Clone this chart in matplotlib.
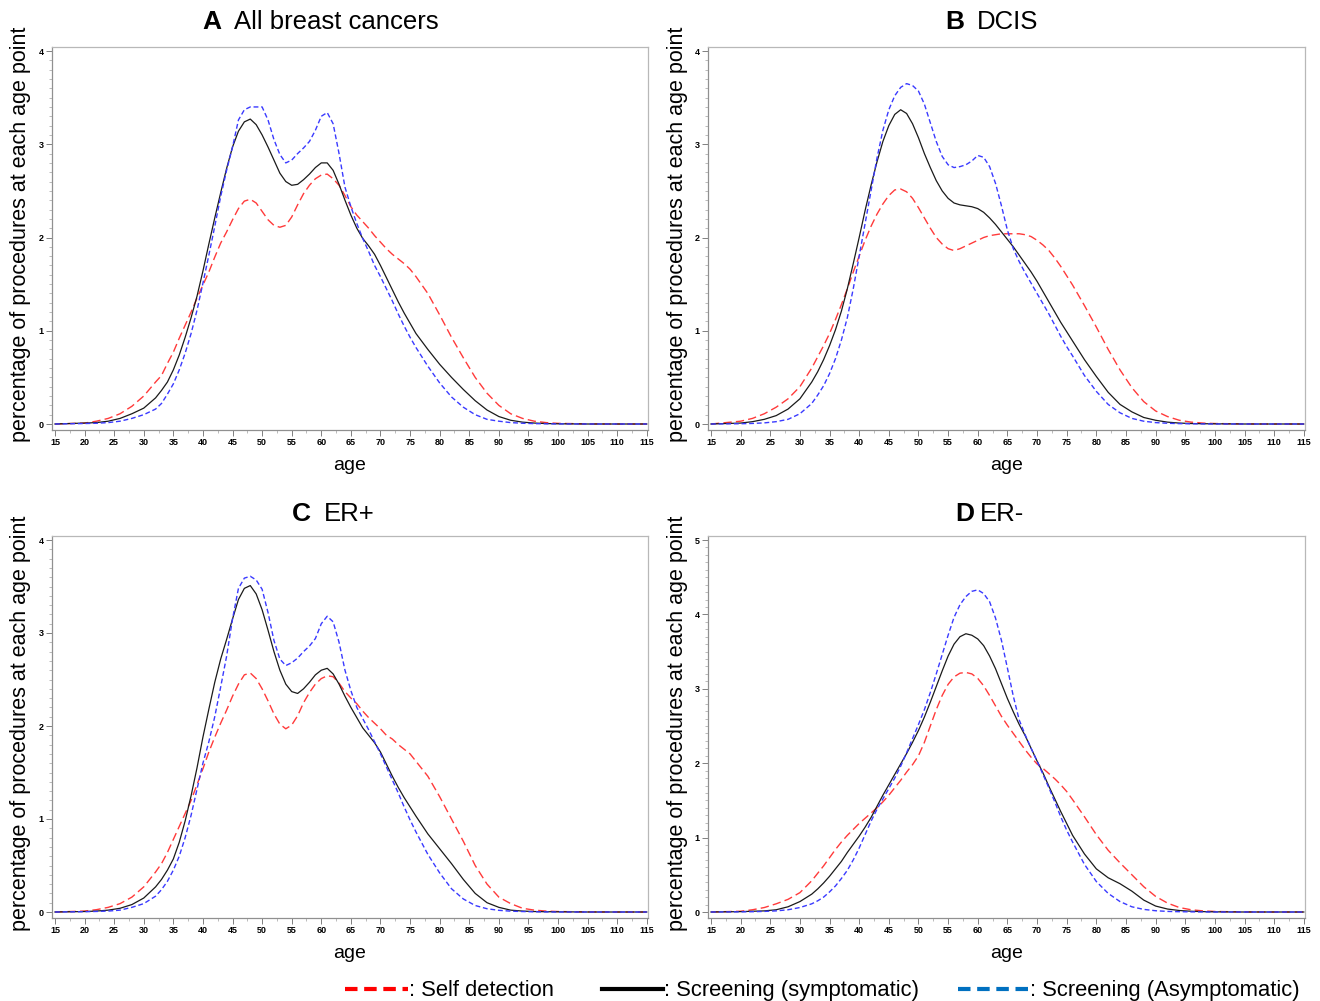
import matplotlib
matplotlib.use("Agg")
import matplotlib.pyplot as plt
from matplotlib.lines import Line2D
from matplotlib.ticker import MultipleLocator
from matplotlib import font_manager

# ages (x) shared by all curves
ages = [15, 20, 22, 24, 26, 28, 30, 32,
        33, 34, 35, 36, 37, 38, 39, 40, 41, 42, 43, 44, 45, 46, 47, 48, 49, 50,
        51, 52, 53, 54, 55, 56, 57, 58, 59, 60, 61, 62, 63, 64, 65, 66, 67, 68,
        69, 70, 71, 72, 73, 74, 75, 76,
        78, 80, 82, 84, 86, 88, 90, 92, 94, 96, 98, 100, 105, 110, 115]

# A  All breast cancers
a_self = [0, 0.01, 0.03, 0.06, 0.11, 0.19, 0.30, 0.45,
          0.52, 0.65, 0.77, 0.92, 1.06, 1.20, 1.35, 1.49, 1.63, 1.79, 1.94, 2.06, 2.19, 2.31, 2.39, 2.41, 2.37, 2.28,
          2.19, 2.13, 2.11, 2.13, 2.22, 2.35, 2.47, 2.56, 2.63, 2.67, 2.68, 2.63, 2.56, 2.45, 2.33, 2.24, 2.17, 2.10,
          2.02, 1.95, 1.88, 1.82, 1.77, 1.72, 1.66, 1.58,
          1.40, 1.17, 0.93, 0.71, 0.50, 0.33, 0.20, 0.11, 0.06, 0.03, 0.015, 0.007, 0.001, 0, 0]
a_sympt = [0, 0.01, 0.015, 0.03, 0.06, 0.11, 0.17, 0.28,
           0.36, 0.45, 0.58, 0.74, 0.93, 1.14, 1.37, 1.64, 1.93, 2.21, 2.48, 2.74, 2.97, 3.14, 3.24, 3.27, 3.21, 3.10,
           2.97, 2.83, 2.69, 2.60, 2.56, 2.57, 2.62, 2.68, 2.75, 2.80, 2.80, 2.72, 2.57, 2.40, 2.24, 2.10, 1.99, 1.91,
           1.82, 1.70, 1.57, 1.44, 1.31, 1.19, 1.08, 0.97,
           0.80, 0.64, 0.50, 0.37, 0.25, 0.15, 0.08, 0.04, 0.02, 0.01, 0.005, 0.002, 0, 0, 0]
a_asympt = [0, 0.005, 0.008, 0.015, 0.03, 0.06, 0.10, 0.16,
            0.22, 0.32, 0.43, 0.58, 0.76, 0.97, 1.22, 1.51, 1.81, 2.12, 2.44, 2.72, 2.97, 3.26, 3.37, 3.40, 3.40, 3.40,
            3.26, 3.05, 2.89, 2.80, 2.83, 2.90, 2.96, 3.03, 3.15, 3.30, 3.34, 3.22, 2.90, 2.54, 2.33, 2.15, 1.99, 1.85,
            1.70, 1.58, 1.45, 1.32, 1.18, 1.05, 0.93, 0.82,
            0.62, 0.44, 0.29, 0.18, 0.10, 0.05, 0.03, 0.015, 0.008, 0.004, 0.002, 0.001, 0, 0, 0]

# B  DCIS
b_self = [0, 0.03, 0.06, 0.11, 0.18, 0.27, 0.40, 0.60,
          0.72, 0.84, 0.97, 1.12, 1.28, 1.45, 1.63, 1.80, 1.97, 2.12, 2.25, 2.36, 2.45, 2.51, 2.52, 2.49, 2.42, 2.32,
          2.21, 2.10, 2.00, 1.93, 1.88, 1.86, 1.88, 1.91, 1.94, 1.97, 2.00, 2.02, 2.03, 2.04, 2.04, 2.04, 2.04, 2.03,
          2.01, 1.97, 1.92, 1.86, 1.78, 1.69, 1.59, 1.49,
          1.27, 1.04, 0.80, 0.58, 0.39, 0.24, 0.14, 0.08, 0.04, 0.02, 0.01, 0.005, 0.001, 0, 0]
b_sympt = [0, 0.01, 0.025, 0.05, 0.09, 0.16, 0.27, 0.45,
           0.56, 0.69, 0.84, 1.01, 1.21, 1.45, 1.72, 2.00, 2.29, 2.56, 2.81, 3.03, 3.20, 3.32, 3.37, 3.33, 3.22, 3.07,
           2.90, 2.75, 2.61, 2.50, 2.42, 2.37, 2.35, 2.34, 2.33, 2.31, 2.27, 2.21, 2.14, 2.06, 1.98, 1.90, 1.81, 1.72,
           1.63, 1.53, 1.42, 1.31, 1.20, 1.09, 0.99, 0.89,
           0.69, 0.51, 0.34, 0.21, 0.13, 0.07, 0.04, 0.02, 0.01, 0.005, 0.003, 0.002, 0, 0, 0]
b_asympt = [0, 0.003, 0.006, 0.012, 0.025, 0.05, 0.11, 0.22,
            0.31, 0.41, 0.54, 0.70, 0.90, 1.14, 1.45, 1.80, 2.15, 2.50, 2.85, 3.15, 3.37, 3.52, 3.61, 3.65, 3.63, 3.57,
            3.43, 3.23, 3.03, 2.87, 2.78, 2.75, 2.76, 2.78, 2.82, 2.88, 2.86, 2.76, 2.58, 2.34, 2.08, 1.88, 1.74, 1.62,
            1.51, 1.40, 1.29, 1.18, 1.06, 0.94, 0.83, 0.73,
            0.52, 0.35, 0.21, 0.12, 0.06, 0.03, 0.015, 0.008, 0.004, 0.002, 0.001, 0, 0, 0, 0]

# C  ER+
c_self = [0, 0.01, 0.025, 0.05, 0.09, 0.16, 0.27, 0.43,
          0.52, 0.64, 0.78, 0.92, 1.06, 1.20, 1.37, 1.54, 1.72, 1.88, 2.03, 2.17, 2.32, 2.45, 2.55, 2.57, 2.51, 2.40,
          2.27, 2.13, 2.02, 1.97, 2.01, 2.11, 2.25, 2.36, 2.45, 2.51, 2.54, 2.53, 2.46, 2.37, 2.30, 2.24, 2.16, 2.09,
          2.03, 1.97, 1.90, 1.86, 1.80, 1.75, 1.70, 1.62,
          1.46, 1.24, 1.00, 0.76, 0.50, 0.30, 0.16, 0.09, 0.04, 0.02, 0.01, 0.005, 0.001, 0, 0]
c_sympt = [0, 0.005, 0.01, 0.02, 0.04, 0.08, 0.15, 0.27,
           0.35, 0.45, 0.57, 0.75, 0.98, 1.25, 1.55, 1.88, 2.18, 2.47, 2.72, 2.93, 3.15, 3.36, 3.48, 3.51, 3.42, 3.25,
           3.03, 2.80, 2.60, 2.45, 2.37, 2.35, 2.40, 2.47, 2.55, 2.60, 2.62, 2.56, 2.45, 2.32, 2.20, 2.09, 1.98, 1.90,
           1.82, 1.72, 1.59, 1.46, 1.34, 1.23, 1.13, 1.03,
           0.84, 0.68, 0.52, 0.35, 0.20, 0.10, 0.05, 0.02, 0.01, 0.005, 0.003, 0.002, 0, 0, 0]
c_asympt = [0, 0.003, 0.006, 0.01, 0.02, 0.05, 0.09, 0.17,
            0.24, 0.33, 0.45, 0.60, 0.80, 1.04, 1.32, 1.60, 1.83, 2.10, 2.42, 2.75, 3.15, 3.48, 3.59, 3.61, 3.57, 3.47,
            3.22, 2.92, 2.72, 2.65, 2.68, 2.73, 2.80, 2.86, 2.94, 3.10, 3.18, 3.12, 2.90, 2.60, 2.38, 2.20, 2.08, 1.96,
            1.83, 1.70, 1.56, 1.42, 1.28, 1.13, 0.99, 0.86,
            0.62, 0.42, 0.25, 0.14, 0.07, 0.035, 0.018, 0.009, 0.005, 0.002, 0.001, 0, 0, 0, 0]

# D  ER-
d_self = [0, 0.01, 0.03, 0.06, 0.11, 0.17, 0.26, 0.42,
          0.52, 0.62, 0.73, 0.84, 0.94, 1.03, 1.11, 1.19, 1.26, 1.33, 1.40, 1.48, 1.57, 1.67, 1.77, 1.88, 1.98, 2.10,
          2.28, 2.50, 2.72, 2.91, 3.06, 3.16, 3.21, 3.22, 3.20, 3.14, 3.04, 2.91, 2.77, 2.63, 2.51, 2.40, 2.29, 2.18,
          2.08, 1.99, 1.93, 1.86, 1.79, 1.71, 1.62, 1.51,
          1.28, 1.04, 0.83, 0.66, 0.50, 0.34, 0.21, 0.12, 0.06, 0.03, 0.015, 0.007, 0.001, 0, 0]
d_sympt = [0, 0.005, 0.01, 0.015, 0.03, 0.07, 0.14, 0.24,
           0.31, 0.39, 0.48, 0.58, 0.68, 0.80, 0.91, 1.02, 1.14, 1.27, 1.42, 1.57, 1.71, 1.85, 1.99, 2.13, 2.28, 2.44,
           2.62, 2.82, 3.03, 3.24, 3.44, 3.60, 3.70, 3.74, 3.72, 3.67, 3.58, 3.44, 3.27, 3.07, 2.87, 2.69, 2.52, 2.37,
           2.20, 2.03, 1.87, 1.69, 1.52, 1.35, 1.19, 1.03,
           0.78, 0.58, 0.46, 0.38, 0.28, 0.16, 0.08, 0.04, 0.02, 0.01, 0.005, 0.002, 0, 0, 0]
d_asympt = [0, 0.002, 0.004, 0.008, 0.015, 0.03, 0.06, 0.11,
            0.15, 0.20, 0.27, 0.35, 0.45, 0.56, 0.70, 0.86, 1.04, 1.22, 1.38, 1.52, 1.66, 1.80, 1.96, 2.14, 2.33, 2.52,
            2.72, 2.95, 3.20, 3.46, 3.72, 3.96, 4.13, 4.24, 4.31, 4.33, 4.28, 4.17, 3.95, 3.65, 3.28, 2.90, 2.58, 2.38,
            2.20, 2.03, 1.85, 1.67, 1.48, 1.28, 1.10, 0.94,
            0.64, 0.41, 0.25, 0.14, 0.07, 0.035, 0.017, 0.008, 0.004, 0.002, 0.001, 0, 0, 0, 0]

letters = ["A", "B", "C", "D"]
names = ["All breast cancers", "DCIS", "ER+", "ER-"]
ymax = [4, 4, 4, 5]
series = [(a_self, a_sympt, a_asympt), (b_self, b_sympt, b_asympt),
          (c_self, c_sympt, c_asympt), (d_self, d_sympt, d_asympt)]

installed = {f.name for f in font_manager.fontManager.ttflist}
narrow = "Liberation Sans Narrow" if "Liberation Sans Narrow" in installed else "Liberation Sans"
plt.rcParams["font.family"] = "Liberation Sans"

W, H = 1320, 1001
fig = plt.figure(figsize=(W / 100, H / 100), dpi=100)

# axes boxes in pixels: left, top, right, bottom
boxes = [(52, 47, 648, 430), (708, 47, 1305, 430), (52, 536, 648, 918), (708, 536, 1305, 918)]
# letter right edge, name left edge, vertical centre (pixels)
title_pos = [(221, 234, 22), (964, 977, 22), (311, 324, 514), (974, 980, 514)]

for i in range(4):
    l, t, r, b = boxes[i]
    ax = fig.add_axes([l / W, 1 - b / H, (r - l) / W, (b - t) / H])
    s_self, s_sym, s_asym = series[i]
    ax.plot(ages, s_self, color="#ff3a3a", lw=1.0, dashes=(6, 3))
    ax.plot(ages, s_sym, color="#1a1a1a", lw=0.9)
    ax.plot(ages, s_asym, color="#3a3aff", lw=1.0, dashes=(3.5, 2))

    unit = (b - t - 10) / ymax[i]
    ax.set_ylim(-6 / unit, ymax[i] + 4 / unit)
    ax.set_xlim(14.5, 115.2)
    ax.xaxis.set_major_locator(MultipleLocator(5))
    ax.xaxis.set_minor_locator(MultipleLocator(2.5))
    ax.yaxis.set_major_locator(MultipleLocator(1))
    ax.yaxis.set_minor_locator(MultipleLocator(0.1))
    ax.tick_params(which="major", length=4, width=0.7, color="#808080", labelsize=6.5, pad=2)
    ax.tick_params(which="minor", length=2, width=0.5, color="#a0a0a0")
    for lab in ax.get_xticklabels() + ax.get_yticklabels():
        lab.set_fontweight("bold")
        lab.set_family(narrow)
    for sp in ax.spines.values():
        sp.set_color("#b8b8b8")
        sp.set_linewidth(0.9)
    ax.spines["left"].set_color("#909090")
    ax.spines["bottom"].set_color("#909090")

    ax.set_ylabel("percentage of procedures at each age point", fontsize=15.5)
    ax.yaxis.set_label_coords((31 + (657 if i % 2 else 0) - l) / (r - l), 0.51)
    ax.set_xlabel("age", fontsize=14)
    ax.xaxis.set_label_coords(0.5, -27.0 / (b - t))

    lx, tx, ty = title_pos[i]
    fig.text(lx / W, 1 - ty / H, letters[i], ha="right", va="center",
             fontsize=19, fontweight="bold", family="Liberation Sans")
    fig.text(tx / W, 1 - ty / H, names[i], ha="left", va="center",
             fontsize=18.5, family=narrow)

# legend along the bottom
ly = 1 - 989 / H
base = 1 - 996 / H
legend_items = [((345, 408), "#ff0000", (3, 1.6), ": Self detection", 409),
                ((602, 663), "black", None, ": Screening (symptomatic)", 664),
                ((958, 1029), "#0070c0", (3, 1.6), ": Screening (Asymptomatic)", 1030)]
for (x0, x1), col, dash, label, tx in legend_items:
    ln = Line2D([x0 / W, x1 / W], [ly, ly], transform=fig.transFigure, color=col, lw=3)
    if dash:
        ln.set_dashes(dash)
    fig.add_artist(ln)
    fig.text(tx / W, base, label, ha="left", va="baseline", fontsize=15.8, family=narrow)

fig.savefig("out.png", dpi=100)
